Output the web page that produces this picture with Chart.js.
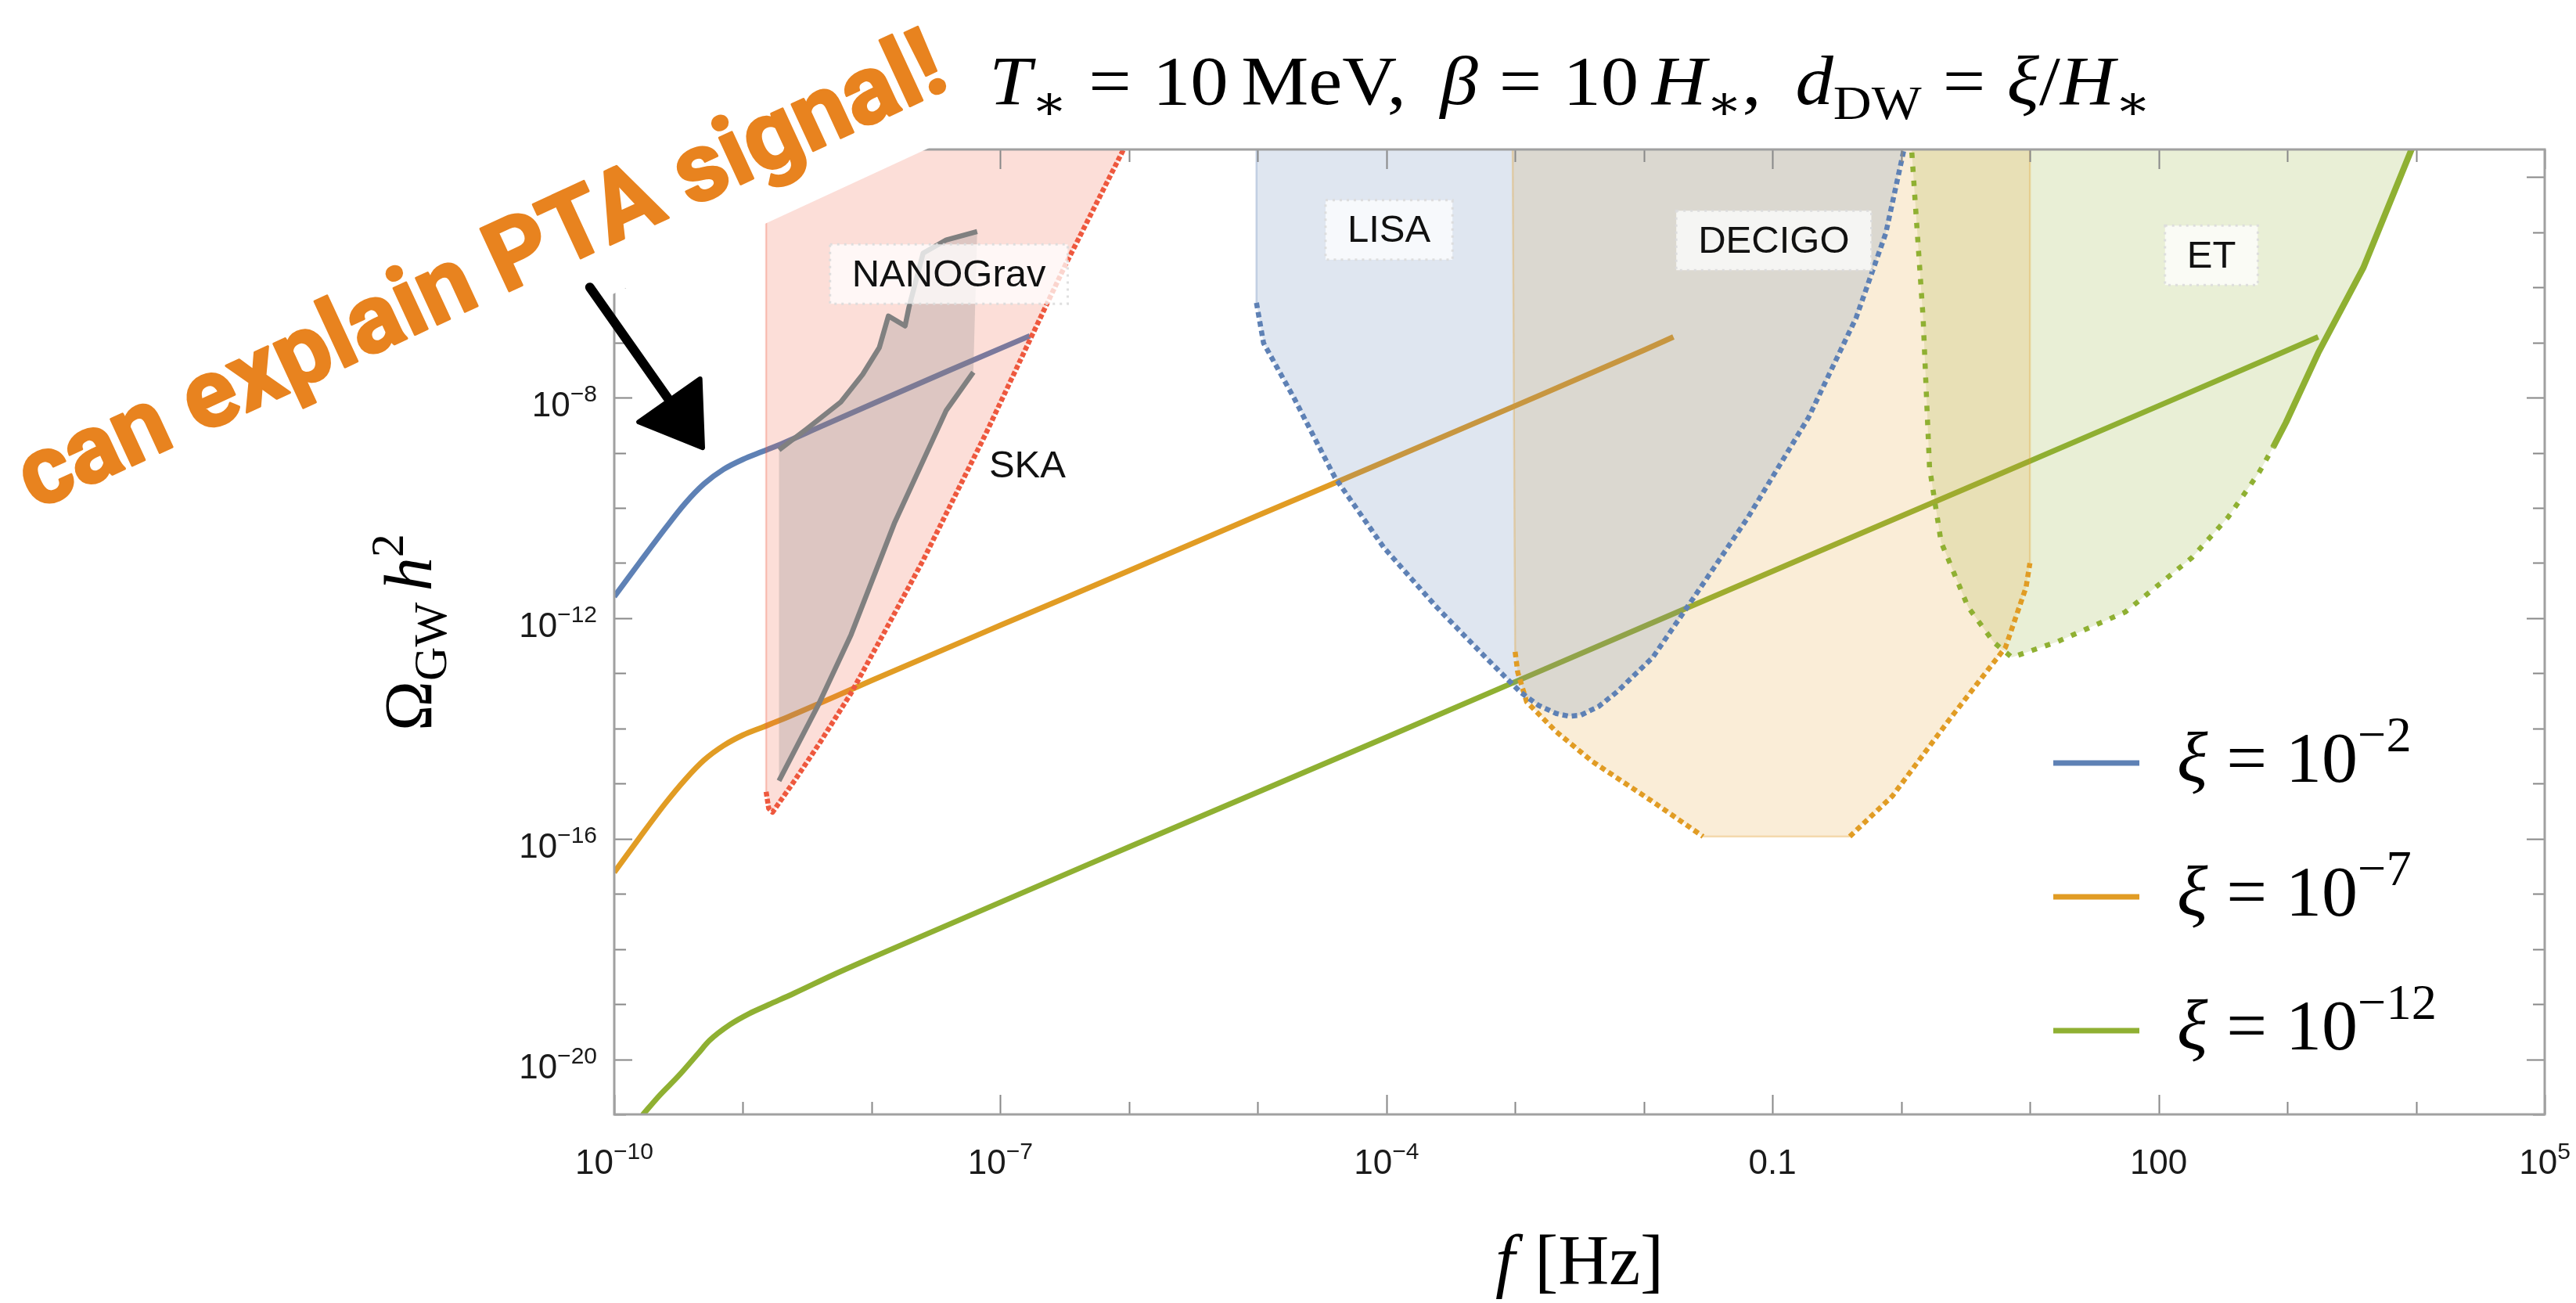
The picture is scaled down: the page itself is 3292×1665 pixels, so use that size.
<!DOCTYPE html>
<html>
<head>
<meta charset="utf-8">
<script src="https://cdn.jsdelivr.net/npm/chart.js@4.4.0/dist/chart.umd.min.js"></script>
<style>
  html, body { margin: 0; padding: 0; background: #fff; }
  canvas { display: block; }
</style>
</head>
<body>
<canvas id="gwChart" width="3292" height="1665"></canvas>
<script>
// all values are log10(f / Hz) and log10(Omega_GW h^2)

// spectra
const xi2LogF      = [-10, -9.8, -9.6, -9.45, -9.3, -9.15, -9.0, -8.85, -8.7, -8.4, -8.0, -7.4, -6.77];
const xi2LogOmega  = [-11.61, -10.98, -10.36, -9.92, -9.56, -9.30, -9.12, -8.98, -8.84, -8.53, -8.12, -7.51, -6.88];

const xi7LogF      = [-10, -9.8, -9.6, -9.45, -9.3, -9.15, -9.0, -8.85, -8.7, -8.4, -8.0, -7.0, -6.0, -5.0, -4.0, -3.0, -2.0, -1.77];
const xi7LogOmega  = [-16.61, -15.97, -15.35, -14.93, -14.57, -14.31, -14.12, -13.98, -13.84, -13.54, -13.13, -12.13, -11.14, -10.14, -9.15, -8.15, -7.14, -6.90];

const xi12LogF     = [-9.78, -9.65, -9.5, -9.35, -9.26, -9.1, -8.95, -8.8, -8.6, -8.3, -8.0, -6.0, -4.0, -2.0, 0.0, 2.0, 3.24];
const xi12LogOmega = [-21.01, -20.66, -20.30, -19.90, -19.66, -19.37, -19.17, -19.01, -18.80, -18.47, -18.16, -16.15, -14.16, -12.15, -10.15, -8.15, -6.90];

// PTA band (SKA curve) and NANOGrav posterior
const skaLogF      = [-8.82, -8.82, -8.80, -8.77, -8.6, -8.4, -8.16, -7.9, -7.6, -7.11, -6.8, -6.5, -6.0];
const skaLogOmega  = [-3.3, -15.15, -15.45, -15.52, -14.95, -14.25, -13.36, -12.25, -10.95, -8.64, -7.1, -5.62, -3.3];

const nanoUpperLogF     = [-8.72, -8.50, -8.24, -8.07, -7.94, -7.87, -7.74, -7.71, -7.60, -7.42, -7.18];
const nanoUpperLogOmega = [-8.95, -8.56, -8.08, -7.58, -7.09, -6.52, -6.70, -6.36, -5.38, -5.14, -4.99];
const nanoLowerLogF     = [-8.72, -8.42, -8.16, -7.82, -7.42, -7.21];
const nanoLowerLogOmega = [-14.95, -13.60, -12.30, -10.26, -8.23, -7.54];

// LISA, DECIGO, ET sensitivity
const lisaLogF     = [-5.01, -5.01, -4.955, -4.72, -4.40, -4.02, -3.61, -3.23, -2.96, -2.82, -2.68, -2.58, -2.49, -2.35, -2.21, -1.93, -1.61, -1.19, -0.72, -0.35, -0.12, 0.04];
const lisaLogOmega = [-3.3, -6.28, -7.01, -8.0, -9.45, -10.72, -11.80, -12.71, -13.34, -13.58, -13.73, -13.78, -13.76, -13.6, -13.34, -12.71, -11.62, -10.17, -8.36, -6.55, -5.02, -3.3];

const decigoLogF     = [-3.02, -3.0, -2.98, -2.91, -2.68, -2.40, -1.93, -1.54, -0.40, -0.07, 0.39, 0.81, 0.97, 1.0, 1.0];
const decigoLogOmega = [-3.3, -12.61, -12.98, -13.52, -14.06, -14.6, -15.33, -15.96, -15.96, -15.23, -13.79, -12.53, -11.44, -11.0, -3.3];

const etLogF     = [0.075, 0.17, 0.22, 0.31, 0.52, 0.72, 0.86, 1.21, 1.74, 2.26, 2.54, 2.78, 2.89, 2.99, 3.24, 3.59, 4.0];
const etLogOmega = [-3.3, -6.55, -9.27, -10.62, -11.80, -12.44, -12.71, -12.43, -11.89, -10.90, -10.17, -9.36, -8.9, -8.45, -7.19, -5.65, -3.3];

// detector names and where their tags sit
const detectorNames     = ['NANOGrav', 'SKA', 'LISA', 'DECIGO', 'ET'];
const detectorTagLogF   = [-7.40, -6.79, -3.98, -0.99, 2.41];
const detectorTagLogOm  = [-5.76, -9.22, -4.96, -5.15, -5.42];
const detectorTagBoxed  = [true, false, true, true, true];

// axes
const xLabelExps = [-10, -7, -4, -1, 2, 5];
const xLabelText = ['10^-10', '10^-7', '10^-4', '0.1', '100', '10^5'];
const yLabelExps = [-20, -16, -12, -8, -4];
const yLabelText = ['10^-20', '10^-16', '10^-12', '10^-8', '10^-4'];
const LOG_F_MIN = -10, LOG_F_MAX = 5;
const LOG_OM_MIN = -21, LOG_OM_MAX = -3.5;

const blueRGB = [94, 129, 181];
const orangeRGB = [225, 156, 36];
const greenRGB = [143, 176, 50];
const redRGB = [238, 88, 62];
const grayRGB = [128, 128, 128];
const rgba = (c, a) => `rgba(${c[0]},${c[1]},${c[2]},${a})`;

const SERIF = '"Liberation Serif", "DejaVu Serif", serif';
const SANS = '"Liberation Sans", Arial, sans-serif';

function pts(logF, logOm) {
  return logF.map((lf, i) => ({ x: Math.pow(10, lf), y: Math.pow(10, logOm[i]) }));
}

function spectrum(label, logF, logOm, color) {
  return {
    label, data: pts(logF, logOm), showLine: true, pointRadius: 0,
    borderColor: rgba(color, 1), borderWidth: 7, cubicInterpolationMode: 'monotone',
    fill: false, isSpectrum: true, order: 50
  };
}

// shaded band: fill only (segment styles would split the shape)
function regionFill(label, logF, logOm, color, alpha) {
  return {
    label: label + ' band', data: pts(logF, logOm), showLine: true, pointRadius: 0, tension: 0,
    fill: 'shape', backgroundColor: rgba(color, alpha), borderWidth: 0, order: 32
  };
}

// band outline: dotted curve, faint straight edges, thick part where given
function regionEdge(label, logF, logOm, color, dash, edgeSegs, thickSegs) {
  const kind = i => edgeSegs.includes(i) ? 'edge' : (thickSegs.includes(i) ? 'thick' : 'dot');
  return {
    label, data: pts(logF, logOm), showLine: true, pointRadius: 0, tension: 0, fill: false,
    borderColor: rgba(color, 1), borderWidth: 6.5, borderDash: dash,
    segment: {
      borderDash: c => kind(c.p0DataIndex) === 'dot' ? dash : [],
      borderColor: c => kind(c.p0DataIndex) === 'edge' ? rgba(color, 0.3) : rgba(color, 1),
      borderWidth: c => ({ edge: 2.5, thick: 8, dot: 6.5 })[kind(c.p0DataIndex)]
    },
    order: 28
  };
}

const nanoFill = {
  label: 'NANOGrav band',
  data: pts(nanoUpperLogF.concat(nanoLowerLogF.slice().reverse()),
            nanoUpperLogOmega.concat(nanoLowerLogOmega.slice().reverse())),
  showLine: true, pointRadius: 0, fill: 'shape', borderWidth: 0,
  backgroundColor: rgba(grayRGB, 0.25), order: 26
};
const nanoLine = (label, f, o) => ({
  label, data: pts(f, o), showLine: true, pointRadius: 0, fill: false,
  borderColor: rgba(grayRGB, 1), borderWidth: 6.5, order: 20
});

const datasets = [
  spectrum('ξ = 10^-2', xi2LogF, xi2LogOmega, blueRGB),
  spectrum('ξ = 10^-7', xi7LogF, xi7LogOmega, orangeRGB),
  spectrum('ξ = 10^-12', xi12LogF, xi12LogOmega, greenRGB),
  regionFill('SKA', skaLogF, skaLogOmega, redRGB, 0.2),
  regionFill('LISA', lisaLogF, lisaLogOmega, blueRGB, 0.2),
  regionFill('DECIGO', decigoLogF, decigoLogOmega, orangeRGB, 0.18),
  regionFill('ET', etLogF, etLogOmega, greenRGB, 0.2),
  regionEdge('SKA', skaLogF, skaLogOmega, redRGB, [6, 3], [0], []),
  regionEdge('LISA', lisaLogF, lisaLogOmega, blueRGB, [7, 5], [0], []),
  regionEdge('DECIGO', decigoLogF, decigoLogOmega, orangeRGB, [7, 5], [0, 7, 13], []),
  regionEdge('ET', etLogF, etLogOmega, greenRGB, [7, 11], [], [12, 13, 14, 15]),
  nanoFill,
  nanoLine('NANOGrav upper', nanoUpperLogF, nanoUpperLogOmega),
  nanoLine('NANOGrav lower', nanoLowerLogF, nanoLowerLogOmega)
];

// ---------- text helpers ----------
function serifFont(p, size) {
  const s = (p.sub || p.sup) ? size * 0.7 : size;
  return `${p.it ? 'italic ' : ''}${s}px ${SERIF}`;
}
function drawRich(ctx, parts, x, y, size, align, stretch) {
  const sx = stretch || 1;
  const widths = parts.map(p => {
    if (p.gap) return p.gap * size;
    ctx.font = serifFont(p, size);
    return ctx.measureText(p.t).width;
  });
  const total = widths.reduce((a, b) => a + b, 0);
  let cx = align === 'center' ? -total / 2 : (align === 'right' ? -total : 0);
  ctx.save();
  ctx.translate(x, y);
  ctx.scale(sx, 1);
  ctx.textAlign = 'left';
  ctx.textBaseline = 'alphabetic';
  parts.forEach((p, i) => {
    if (!p.gap) {
      ctx.font = serifFont(p, size);
      const dy = p.sub ? 0.22 * size : (p.sup ? -0.42 * size : 0);
      ctx.fillText(p.t, cx, dy);
    }
    cx += widths[i];
  });
  ctx.restore();
  return total * sx;
}
function drawPow(ctx, text, x, y, align) {
  const [base, exp] = text.split('^');
  const expTxt = exp ? exp.replace('-', '\u2212') : '';
  ctx.font = `44px ${SANS}`;
  const wb = ctx.measureText(base).width;
  ctx.font = `30px ${SANS}`;
  const we = exp ? ctx.measureText(expTxt).width : 0;
  const total = wb + we;
  let x0 = align === 'center' ? x - total / 2 : (align === 'right' ? x - total : x);
  ctx.textAlign = 'left';
  ctx.textBaseline = 'alphabetic';
  ctx.font = `44px ${SANS}`;
  ctx.fillText(base, x0, y);
  if (exp) {
    ctx.font = `30px ${SANS}`;
    ctx.fillText(expTxt, x0 + wb, y - 19);
  }
}

// ---------- plugin: tags, frame, ticks, titles, legend, annotation ----------
const decor = {
  id: 'decor',
  afterDatasetsDraw(chart) {
    const { ctx, scales: { x: xs, y: ys } } = chart;
    ctx.save();
    detectorNames.forEach((name, i) => {
      const px = xs.getPixelForValue(Math.pow(10, detectorTagLogF[i]));
      const py = ys.getPixelForValue(Math.pow(10, detectorTagLogOm[i]));
      ctx.font = `49px ${SANS}`;
      const w = ctx.measureText(name).width;
      if (detectorTagBoxed[i]) {
        const bw = w + 56, bh = 76;
        ctx.fillStyle = 'rgba(255,255,255,0.75)';
        ctx.fillRect(px - bw / 2, py - bh / 2, bw, bh);
        ctx.strokeStyle = 'rgba(220,220,220,0.9)';
        ctx.lineWidth = 3;
        ctx.setLineDash([3, 6]);
        ctx.strokeRect(px - bw / 2, py - bh / 2, bw, bh);
        ctx.setLineDash([]);
      }
      ctx.fillStyle = '#111';
      ctx.textAlign = 'center';
      ctx.textBaseline = 'middle';
      ctx.fillText(name, px, py + 2);
    });
    ctx.restore();
  },
  afterDraw(chart) {
    const { ctx, chartArea: { left, right, top, bottom }, scales: { x: xs, y: ys } } = chart;
    ctx.save();

    // ticks, pointing inwards on all four sides
    ctx.strokeStyle = '#888';
    ctx.lineWidth = 2;
    ctx.beginPath();
    for (let e = LOG_F_MIN; e <= LOG_F_MAX; e++) {
      const px = Math.round(xs.getPixelForValue(Math.pow(10, e))) + 0.5;
      const len = xLabelExps.includes(e) ? 25 : 16;
      ctx.moveTo(px, bottom); ctx.lineTo(px, bottom - len);
      ctx.moveTo(px, top); ctx.lineTo(px, top + len);
    }
    for (let e = Math.ceil(LOG_OM_MIN); e <= Math.floor(LOG_OM_MAX); e++) {
      const py = Math.round(ys.getPixelForValue(Math.pow(10, e))) + 0.5;
      const len = yLabelExps.includes(e) ? 23 : 15;
      ctx.moveTo(left, py); ctx.lineTo(left + len, py);
      ctx.moveTo(right, py); ctx.lineTo(right - len, py);
    }
    ctx.stroke();

    // frame
    ctx.strokeStyle = '#a0a0a0';
    ctx.lineWidth = 3;
    ctx.strokeRect(left, top, right - left, bottom - top);

    // tick labels
    ctx.fillStyle = '#1a1a1a';
    xLabelExps.forEach((e, i) => {
      drawPow(ctx, xLabelText[i], xs.getPixelForValue(Math.pow(10, e)), bottom + 76, 'center');
    });
    yLabelExps.forEach((e, i) => {
      drawPow(ctx, yLabelText[i], left - 22, ys.getPixelForValue(Math.pow(10, e)) + 24, 'right');
    });

    // axis titles
    ctx.fillStyle = '#000';
    drawRich(ctx, [{ t: 'f', it: true }, { gap: 0.28 }, { t: '[Hz]' }],
             (left + right) / 2, bottom + 217, 90, 'center');
    ctx.save();
    ctx.translate(left - 234, top + 617);
    ctx.rotate(-Math.PI / 2);
    drawRich(ctx, [{ t: 'Ω' }, { t: 'GW', sub: true }, { gap: 0.17 }, { t: 'h', it: true }, { t: '2', sup: true }],
             0, 0, 86, 'center');
    ctx.restore();

    // title
    drawRich(ctx, [
      { t: 'T', it: true }, { t: '∗', sub: true }, { gap: 0.28 }, { t: '=' }, { gap: 0.28 },
      { t: '10' }, { gap: 0.17 }, { t: 'MeV,' }, { gap: 0.45 },
      { t: 'β', it: true }, { gap: 0.28 }, { t: '=' }, { gap: 0.28 }, { t: '10' }, { gap: 0.17 },
      { t: 'H', it: true }, { t: '∗', sub: true }, { t: ',' }, { gap: 0.45 },
      { t: 'd', it: true }, { t: 'DW', sub: true }, { gap: 0.28 }, { t: '=' }, { gap: 0.28 },
      { t: 'ξ', it: true }, { t: '/' }, { t: 'H', it: true }, { t: '∗', sub: true }
    ], (left + right) / 2 - 12, top - 58, 88, 'center', 1.1);

    // legend
    const spectra = chart.data.datasets.filter(d => d.isSpectrum);
    spectra.forEach((d, i) => {
      const y = top + 784 + i * 171;
      const x0 = right - 628;
      ctx.strokeStyle = d.borderColor;
      ctx.lineWidth = 7;
      ctx.beginPath();
      ctx.moveTo(x0, y); ctx.lineTo(x0 + 110, y);
      ctx.stroke();
      const [lhs, exp] = d.label.split(' = ');
      const [base, pow] = exp.split('^');
      ctx.fillStyle = '#000';
      drawRich(ctx, [
        { t: lhs, it: true }, { gap: 0.26 }, { t: '=' }, { gap: 0.26 }, { t: base },
        { t: pow.replace('-', '\u2212'), sup: true }
      ], x0 + 158, y + 24, 92, 'left');
    });

    // white patch + annotation text, as pasted over the figure
    const ann = 'can explain PTA signal!';
    ctx.save();
    ctx.translate(left - 740, top + 461);
    ctx.rotate(-24.8 * Math.PI / 180);
    ctx.font = `bold 100px Roboto, Lato, ${SANS}`;
    const w0 = ctx.measureText(ann).width;
    const size = 100 * 1290 / w0;
    ctx.font = `bold ${size}px Roboto, Lato, ${SANS}`;
    ctx.fillStyle = '#fff';
    ctx.fillRect(-40, -size * 1.25, 1296 + 70, size * 1.25 + 59);
    ctx.fillStyle = '#E8831F';
    ctx.strokeStyle = '#E8831F';
    ctx.lineWidth = 3;
    ctx.lineJoin = 'round';
    ctx.textAlign = 'left';
    ctx.textBaseline = 'alphabetic';
    ctx.strokeText(ann, 0, 0);
    ctx.fillText(ann, 0, 0);
    ctx.restore();

    // hand-drawn style arrow pointing at the blue spectrum
    const ax0 = xs.getPixelForValue(Math.pow(10, -10.19)), ay0 = ys.getPixelForValue(Math.pow(10, -6.0));
    const ax1 = xs.getPixelForValue(Math.pow(10, -9.313)), ay1 = ys.getPixelForValue(Math.pow(10, -8.91));
    const L = Math.hypot(ax1 - ax0, ay1 - ay0);
    const ux = (ax1 - ax0) / L, uy = (ay1 - ay0) / L;
    const bx = ax1 - 74 * ux, by = ay1 - 74 * uy;
    ctx.strokeStyle = '#000';
    ctx.fillStyle = '#000';
    ctx.lineWidth = 12;
    ctx.lineCap = 'round';
    ctx.beginPath();
    ctx.moveTo(ax0, ay0); ctx.lineTo(bx, by);
    ctx.stroke();
    ctx.lineJoin = 'round';
    ctx.lineWidth = 6;
    ctx.beginPath();
    ctx.moveTo(ax1, ay1);
    ctx.lineTo(bx + 48 * uy, by - 48 * ux);
    ctx.lineTo(bx - 48 * uy, by + 48 * ux);
    ctx.closePath();
    ctx.fill();
    ctx.stroke();

    ctx.restore();
  }
};

new Chart(document.getElementById('gwChart'), {
  type: 'scatter',
  data: { datasets },
  options: {
    responsive: false,
    animation: false,
    events: [],
    layout: { padding: { left: 785, right: 40, top: 191, bottom: 241 } },
    plugins: { legend: { display: false }, tooltip: { enabled: false } },
    elements: { line: { borderJoinStyle: 'round' } },
    scales: {
      x: { type: 'logarithmic', min: Math.pow(10, LOG_F_MIN), max: Math.pow(10, LOG_F_MAX), display: false },
      y: { type: 'logarithmic', min: Math.pow(10, LOG_OM_MIN), max: Math.pow(10, LOG_OM_MAX), display: false }
    }
  },
  plugins: [decor]
});
</script>
</body>
</html>
